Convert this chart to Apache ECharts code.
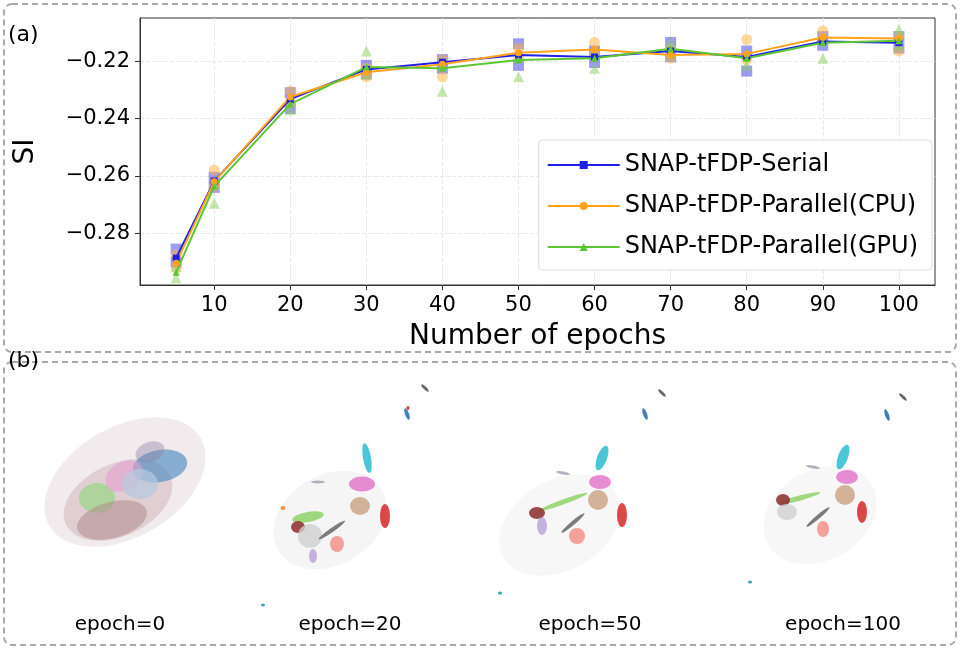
<!DOCTYPE html>
<html>
<head>
<meta charset="utf-8">
<script src="https://cdn.jsdelivr.net/npm/echarts@6/dist/echarts.min.js"></script>
<style>
  html, body {margin: 0; padding: 0; background: #fff;}
  #main {width: 960px; height: 650px;}
</style>
</head>
<body>
<div id="main"></div>
<script>
// ---- panel (a) data ----
let epochs = [5, 10, 20, 30, 40, 50, 60, 70, 80, 90, 100];
let xTicks = [10, 20, 30, 40, 50, 60, 70, 80, 90, 100];
let yTicks = [-0.28, -0.26, -0.24, -0.22];

let serialMean = [-0.2886, -0.2618, -0.2332, -0.2229, -0.2204, -0.2179, -0.2186, -0.2165, -0.2186, -0.2132, -0.2136];
let cpuMean = [-0.2904, -0.2620, -0.2325, -0.2239, -0.2211, -0.2171, -0.2160, -0.2179, -0.2175, -0.2118, -0.2121];
let gpuMean = [-0.2936, -0.2636, -0.2350, -0.2221, -0.2225, -0.2196, -0.2190, -0.2157, -0.2190, -0.2136, -0.2129];

// low / high runs at each epoch
let serialRuns = [[-0.2855, -0.2900], [-0.2605, -0.2640], [-0.2310, -0.2365], [-0.2215, -0.2245], [-0.2195, -0.2225], [-0.2140, -0.2215], [-0.2165, -0.2205], [-0.2135, -0.2185], [-0.2165, -0.2235], [-0.2115, -0.2145], [-0.2115, -0.2155]];
let cpuRuns = [[-0.2875, -0.2920], [-0.2580, -0.2635], [-0.2305, -0.2345], [-0.2225, -0.2255], [-0.2195, -0.2255], [-0.2155, -0.2185], [-0.2135, -0.2175], [-0.2160, -0.2190], [-0.2125, -0.2195], [-0.2095, -0.2125], [-0.2115, -0.2165]];
let gpuRuns = [[-0.2915, -0.2955], [-0.2625, -0.2695], [-0.2335, -0.2370], [-0.2165, -0.2245], [-0.2215, -0.2305], [-0.2185, -0.2255], [-0.2175, -0.2225], [-0.2135, -0.2175], [-0.2175, -0.2215], [-0.2125, -0.2190], [-0.2090, -0.2145]];

// ---- panel (b) data: cluster blobs [x, y, w, h, rotate, colour, opacity] (page px) ----
let epoch0Blobs = [
    [125, 482, 175, 110, 30, '#efe9ec', 0.9],
    [118, 500, 115, 72, 25, '#d9c2c6', 0.7],
    [160, 466, 55, 32, 10, '#4f8cc0', 0.65],
    [97, 498, 36, 30, 0, '#9ad686', 0.7],
    [112, 520, 72, 36, 15, '#b08a8a', 0.55],
    [124, 476, 40, 28, 30, '#e4a0d0', 0.6],
    [140, 484, 36, 30, 0, '#b5cbe0', 0.7],
    [150, 452, 30, 20, 20, '#8b7ea6', 0.4]
];
let epoch20Blobs = [
    [330, 520, 120, 90, 30, '#f3f3f3', 0.8],
    [367, 458, 8, 30, 10, '#2cbcd0', 0.85],
    [362, 484, 26, 15, 0, '#e070c8', 0.8],
    [360, 506, 20, 18, 0, '#c8a080', 0.8],
    [385, 516, 10, 24, 0, '#d62728', 0.85],
    [308, 517, 32, 10, 10, '#88d060', 0.8],
    [298, 527, 14, 12, 0, '#8c2a2a', 0.85],
    [310, 536, 24, 24, 0, '#cfcfcf', 0.8],
    [332, 530, 32, 4, 35, '#666666', 0.85],
    [337, 544, 14, 16, 0, '#f4908a', 0.85],
    [313, 556, 8, 14, 0, '#b8a0d8', 0.8],
    [318, 482, 14, 3, 0, '#a0a0b0', 0.8],
    [407, 414, 4, 12, 20, '#3070b0', 0.9],
    [408, 408, 3, 4, 0, '#d62728', 0.9],
    [425, 388, 3, 10, 45, '#555555', 0.9],
    [283, 508, 5, 4, 0, '#e08030', 0.8],
    [263, 605, 4, 3, 0, '#2a90d0', 0.9]
];
let epoch50Blobs = [
    [560, 525, 130, 90, 30, '#f5f5f5', 0.8],
    [602, 458, 10, 26, -20, '#2cbcd0', 0.85],
    [600, 482, 22, 14, 0, '#e070c8', 0.8],
    [598, 500, 20, 20, 0, '#c8a080', 0.8],
    [622, 515, 10, 24, 0, '#d62728', 0.85],
    [563, 502, 52, 5, 20, '#88d060', 0.8],
    [537, 513, 16, 12, 0, '#8c2a2a', 0.85],
    [542, 526, 10, 18, 0, '#b8a0d8', 0.8],
    [573, 523, 30, 4, 40, '#666666', 0.85],
    [577, 536, 16, 16, 0, '#f4908a', 0.85],
    [563, 473, 14, 3, -10, '#a0a0b0', 0.8],
    [645, 414, 4, 12, 20, '#3070b0', 0.9],
    [662, 393, 3, 10, 45, '#555555', 0.9],
    [500, 593, 4, 3, 0, '#1aa0a0', 0.9]
];
let epoch100Blobs = [
    [820, 515, 120, 90, 30, '#f5f5f5', 0.8],
    [843, 457, 10, 26, -20, '#2cbcd0', 0.85],
    [847, 477, 22, 14, 0, '#e070c8', 0.8],
    [845, 495, 20, 20, 0, '#c8a080', 0.8],
    [862, 512, 10, 22, 0, '#d62728', 0.85],
    [800, 498, 42, 5, 15, '#88d060', 0.8],
    [783, 500, 14, 12, 0, '#8c2a2a', 0.85],
    [787, 512, 20, 16, 0, '#cfcfcf', 0.8],
    [818, 517, 30, 4, 40, '#666666', 0.85],
    [823, 529, 12, 16, 0, '#f4908a', 0.85],
    [813, 467, 14, 3, -10, '#a0a0b0', 0.8],
    [887, 415, 4, 12, 20, '#3070b0', 0.9],
    [903, 397, 3, 10, 45, '#555555', 0.9],
    [750, 582, 4, 3, 0, '#1aa0a0', 0.9]
];
let epochLabels = ['epoch=0', 'epoch=20', 'epoch=50', 'epoch=100'];
let epochLabelX = [120, 350, 590, 843];

const BLUE = '#1f1fe6', ORANGE = '#ffa31a', GREEN = '#5cc633';
const FONT = '"DejaVu Sans", sans-serif';

function runPoints(runs) {
    let pts = [];
    epochs.forEach((e, i) => {
        runs[i].forEach(v => pts.push([e, v]));
    });
    return pts;
}

function meanLine(name, mean, color, symbol, size) {
    return {
        name: name, type: 'line', xAxisIndex: 0, yAxisIndex: 0,
        data: epochs.map((e, i) => [e, mean[i]]),
        symbol: symbol, symbolSize: size,
        lineStyle: {color: color, width: 2},
        itemStyle: {color: color},
        z: 5
    };
}

function runScatter(runs, color, symbol) {
    return {
        type: 'scatter', xAxisIndex: 0, yAxisIndex: 0,
        data: runPoints(runs),
        symbol: symbol, symbolSize: 11,
        itemStyle: {color: color, opacity: 0.5},
        z: 3
    };
}

function blobSeries(blobs) {
    return {
        type: 'scatter', xAxisIndex: 1, yAxisIndex: 1,
        data: blobs.map(b => ({
            value: [b[0], b[1]],
            symbolSize: [b[2], b[3]],
            symbolRotate: b[4],
            itemStyle: {color: b[5], opacity: b[6]}
        })),
        symbol: 'circle',
        silent: true
    };
}

let chart = echarts.init(document.getElementById('main'));

let option = {
    backgroundColor: '#fff',
    animation: false,
    textStyle: {fontFamily: FONT},
    grid: [
        {left: 140, right: 25, top: 18, bottom: 365, show: true, borderColor: '#333', borderWidth: 1},
        {left: 0, top: 0, width: 960, height: 650}
    ],
    xAxis: [
        {
            type: 'value', gridIndex: 0, min: 0.25, max: 104.75,
            name: 'Number of epochs', nameLocation: 'middle', nameGap: 38,
            nameTextStyle: {fontSize: 28, color: '#000', fontFamily: FONT},
            axisLine: {lineStyle: {color: '#333'}},
            axisTick: {customValues: xTicks, lineStyle: {color: '#333'}},
            axisLabel: {customValues: xTicks, fontSize: 21, color: '#000', margin: 10},
            splitLine: {show: true, lineStyle: {color: '#e8e8e8', type: 'dashed'}}
        },
        {type: 'value', gridIndex: 1, min: 0, max: 960, show: false}
    ],
    yAxis: [
        {
            type: 'value', gridIndex: 0, min: -0.298, max: -0.205,
            name: 'SI', nameLocation: 'middle', nameGap: 100, nameRotate: 90,
            nameTextStyle: {fontSize: 28, color: '#000', fontFamily: FONT},
            axisLine: {show: true, lineStyle: {color: '#333'}},
            axisTick: {show: true, customValues: yTicks, lineStyle: {color: '#333'}},
            axisLabel: {
                customValues: yTicks, fontSize: 21, color: '#000', margin: 10,
                formatter: v => '\u2212' + Math.abs(v).toFixed(2)
            },
            splitLine: {show: true, lineStyle: {color: '#e8e8e8', type: 'dashed'}}
        },
        {type: 'value', gridIndex: 1, min: 0, max: 650, inverse: true, show: false}
    ],
    legend: {
        right: 28, top: 140,
        orient: 'vertical',
        data: ['SNAP-tFDP-Serial', 'SNAP-tFDP-Parallel(CPU)', 'SNAP-tFDP-Parallel(GPU)'],
        itemWidth: 72, itemHeight: 10, itemGap: 17,
        padding: [13, 14, 11, 8],
        backgroundColor: '#fff', borderColor: '#ddd', borderWidth: 1, borderRadius: 4,
        textStyle: {fontSize: 24, color: '#000', fontFamily: FONT}
    },
    graphic: [
        {type: 'rect', shape: {x: 4, y: 4, width: 952, height: 348, r: 8},
         style: {fill: null, stroke: '#aaa', lineWidth: 2, lineDash: [6, 4]}, silent: true},
        {type: 'rect', shape: {x: 4, y: 362, width: 952, height: 283, r: 8},
         style: {fill: null, stroke: '#aaa', lineWidth: 2, lineDash: [6, 4]}, silent: true},
        {type: 'text', left: 8, top: 24, style: {text: '(a)', fontSize: 22, fill: '#000', fontFamily: FONT}},
        {type: 'text', left: 8, top: 350, style: {text: '(b)', fontSize: 22, fill: '#000', fontFamily: FONT}}
    ].concat(epochLabels.map((t, i) => ({
        type: 'text', x: epochLabelX[i], y: 625,
        style: {text: t, fontSize: 20, fill: '#000', fontFamily: FONT, align: 'center', verticalAlign: 'middle'}
    }))),
    series: [
        runScatter(serialRuns, '#3a3ae8', 'rect'),
        runScatter(cpuRuns, '#ffb23c', 'circle'),
        runScatter(gpuRuns, '#8ccf5a', 'triangle'),
        meanLine('SNAP-tFDP-Serial', serialMean, BLUE, 'rect', 7),
        meanLine('SNAP-tFDP-Parallel(CPU)', cpuMean, ORANGE, 'circle', 7),
        meanLine('SNAP-tFDP-Parallel(GPU)', gpuMean, GREEN, 'triangle', 7),
        blobSeries(epoch0Blobs),
        blobSeries(epoch20Blobs),
        blobSeries(epoch50Blobs),
        blobSeries(epoch100Blobs)
    ]
};

chart.setOption(option);
</script>
</body>
</html>
